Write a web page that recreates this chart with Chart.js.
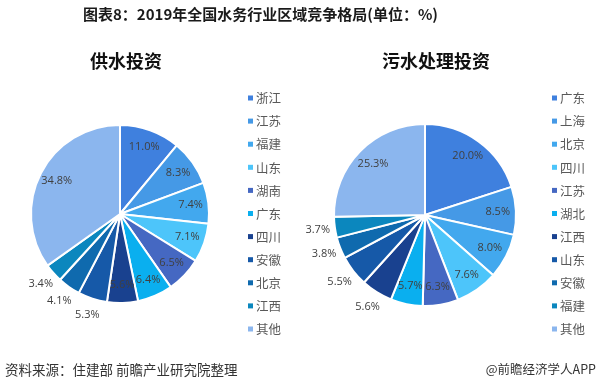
<!DOCTYPE html>
<html><head><meta charset="utf-8">
<script src="https://cdn.jsdelivr.net/npm/chart.js@4.4.0/dist/chart.umd.min.js"></script>
<style>
html,body{margin:0;padding:0;background:#fff;width:600px;height:381px;overflow:hidden;position:relative;font-family:"Noto Sans CJK SC",sans-serif;}
.t{position:absolute;white-space:nowrap;}
#title{left:83px;top:3px;font-size:15px;font-weight:bold;color:#1a1a1a;line-height:22px;}
#s1{left:90px;top:48px;font-size:18px;font-weight:bold;color:#111;line-height:24px;}
#s2{left:382px;top:48px;font-size:18px;font-weight:bold;color:#111;line-height:24px;}
#f1{left:5px;top:359px;font-size:13.5px;color:#333;line-height:20px;}
#f2{right:4px;top:359px;font-size:12.5px;color:#333;line-height:20px;}
canvas{position:absolute;top:0;}
</style></head><body>
<div id="c1w" style="position:absolute;left:0;top:0;width:300px;height:381px;"><canvas id="c1"></canvas></div>
<div id="c2w" style="position:absolute;left:300px;top:0;width:300px;height:381px;"><canvas id="c2"></canvas></div>
<div class="t" id="title">图表8：2019年全国水务行业区域竞争格局(单位：%)</div>
<div class="t" id="s1">供水投资</div>
<div class="t" id="s2">污水处理投资</div>
<div class="t" id="f1">资料来源：住建部 前瞻产业研究院整理</div>
<div class="t" id="f2">@前瞻经济学人APP</div>
<script>
// Data
const supplyRegions = ['浙江','江苏','福建','山东','湖南','广东','四川','安徽','北京','江西','其他'];
const supplyValues = [11.0, 8.3, 7.4, 7.1, 6.5, 6.4, 5.6, 5.3, 4.1, 3.4, 34.8];
const sewageRegions = ['广东','上海','北京','四川','江苏','湖北','江西','山东','安徽','福建','其他'];
const sewageValues = [20.0, 8.5, 8.0, 7.6, 6.3, 5.7, 5.6, 5.5, 3.8, 3.7, 25.3];

const sliceColors = ['#3F80DE','#4599E6','#42A8EE','#4DC5FA','#4568C2','#0AAFEF','#19418F','#1659A8','#0F6AAE','#0B87BE','#8BB6EE'];

function labelPlugin(outsideBelow){
  return {
    id:'sliceLabels',
    afterDatasetsDraw(chart){
      const ctx = chart.ctx;
      const meta = chart.getDatasetMeta(0);
      const vals = chart.data.datasets[0].data;
      ctx.save();
      ctx.font = '11px "Open Sans", sans-serif';
      ctx.fillStyle = '#404040';
      ctx.textAlign = 'center';
      ctx.textBaseline = 'middle';
      meta.data.forEach((arc,i)=>{
        const p = arc.getProps(['x','y','startAngle','endAngle','outerRadius'], true);
        const mid = (p.startAngle + p.endAngle)/2;
        const f = vals[i] < outsideBelow ? 1.19 : 0.8;
        const r = p.outerRadius * f;
        ctx.fillText(vals[i].toFixed(1)+'%', p.x + Math.cos(mid)*r, p.y + Math.sin(mid)*r);
      });
      ctx.restore();
    }
  };
}
function legendPlugin(mx, ty, step){
  return {
    id:'sideLegend',
    afterDraw(chart){
      const ctx = chart.ctx;
      const labels = chart.data.labels;
      const colors = chart.data.datasets[0].backgroundColor;
      ctx.save();
      ctx.font = '12.5px "Noto Sans CJK SC", sans-serif';
      ctx.textBaseline = 'middle';
      ctx.textAlign = 'left';
      labels.forEach((l,i)=>{
        const y = ty + i*step;
        ctx.fillStyle = colors[i];
        ctx.fillRect(mx, y-2.5, 5, 5);
        ctx.fillStyle = '#595959';
        ctx.fillText(l, mx+8, y+0.5);
      });
      ctx.restore();
    }
  };
}
function makePie(id, labels, values, pad, radius, outsideBelow, lx){
  return new Chart(document.getElementById(id), {
    type:'pie',
    data:{labels:labels, datasets:[{data:values, backgroundColor:sliceColors, borderColor:'#ffffff', borderWidth:2, radius:radius}]},
    options:{
      responsive:true, maintainAspectRatio:false, animation:false,
      layout:{padding:pad},
      plugins:{legend:{display:false}, tooltip:{enabled:false}, title:{display:false}}
    },
    plugins:[labelPlugin(outsideBelow), legendPlugin(lx, 98, 23.1)]
  });
}
makePie('c1', supplyRegions, supplyValues, {left:30, right:90, top:124, bottom:77}, 89, 5.5, 248);
makePie('c2', sewageRegions, sewageValues, {left:35, right:85, top:125, bottom:76}, 91, 5.7, 252);
</script>
</body></html>
